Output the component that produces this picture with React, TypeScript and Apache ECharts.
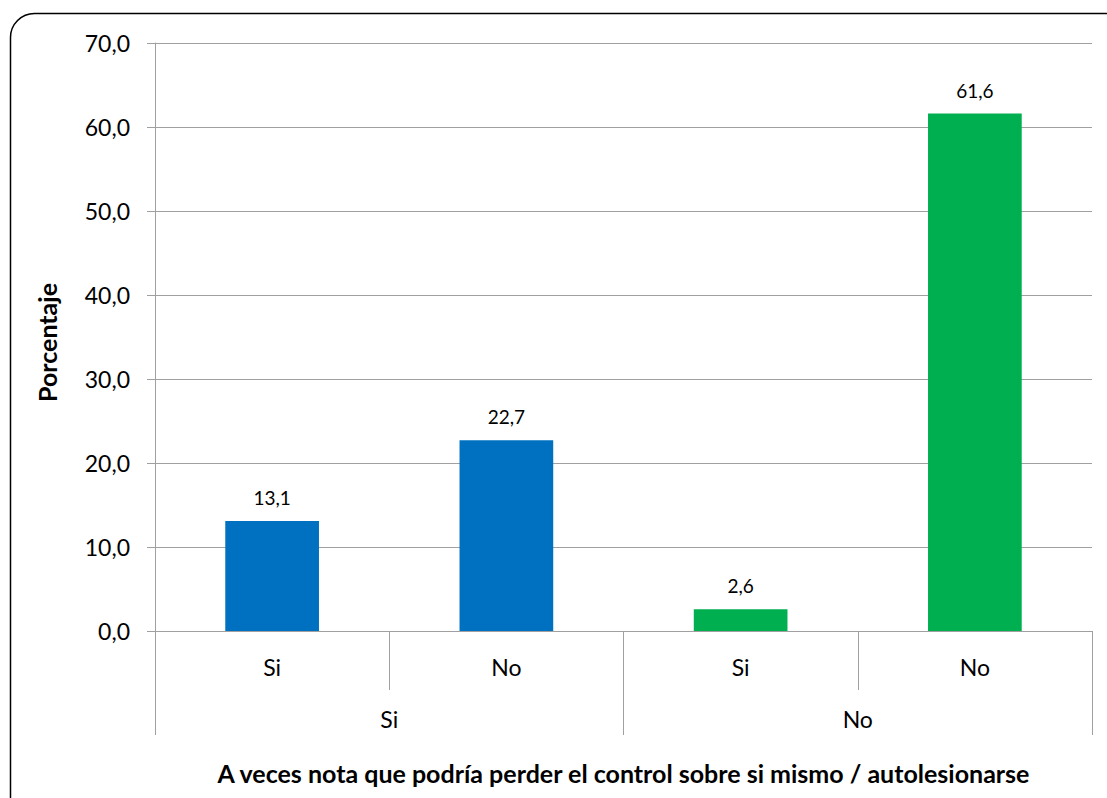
import React, { useEffect, useRef } from "react";
import * as echarts from "echarts";

// Answer groups: outer level is the first question, inner level the second
const innerCategories = ["Si", "No", "Si", "No"];
const outerCategories = ["Si", "No"];
const percentages = [13.1, 22.7, 2.6, 61.6];
const barColors = ["#0070C0", "#0070C0", "#00B050", "#00B050"];
const yTicks = { min: 0, max: 70, interval: 10 };

const yAxisTitle = "Porcentaje";
const xAxisTitle = "A veces nota que podría perder el control sobre si mismo / autolesionarse";

const FONT = "Lato, 'Open Sans', sans-serif";
const GRID_COLOR = "#A0A0A0";

const fmt = (v: number) => v.toFixed(1).replace(".", ",");

export default function App() {
  const ref = useRef<HTMLDivElement>(null);

  useEffect(() => {
    if (!ref.current) return;
    const chart = echarts.init(ref.current, null, { renderer: "svg" });
    const gridBox = { left: 155, right: 15, top: 43, bottom: 167 };

    chart.setOption({
      animation: false,
      backgroundColor: "#ffffff",
      textStyle: { fontFamily: FONT },
      graphic: [
        {
          type: "rect",
          shape: { x: 10.5, y: 13.5, width: 1120, height: 810, r: 24 },
          style: { fill: "none", stroke: "#000000", lineWidth: 1.5 },
          silent: true,
        },
      ],
      grid: [
        { ...gridBox, containLabel: false },
        { ...gridBox, containLabel: false },
      ],
      xAxis: [
        {
          type: "category",
          gridIndex: 0,
          data: innerCategories,
          position: "bottom",
          axisLine: { show: true, lineStyle: { color: GRID_COLOR, width: 1 } },
          axisTick: { show: true, length: 59, lineStyle: { color: GRID_COLOR } },
          axisLabel: { margin: 24, fontSize: 23, color: "#000000", fontFamily: FONT },
        },
        {
          type: "category",
          gridIndex: 1,
          data: outerCategories,
          position: "bottom",
          axisLine: { show: false },
          axisTick: { show: true, length: 104, lineStyle: { color: GRID_COLOR } },
          axisLabel: { margin: 76, fontSize: 23, color: "#000000", fontFamily: FONT },
          name: xAxisTitle,
          nameLocation: "middle",
          nameGap: 129,
          nameTextStyle: { fontSize: 25, fontWeight: "bold", color: "#000000", fontFamily: FONT },
        },
      ],
      yAxis: [
        {
          type: "value",
          gridIndex: 0,
          min: yTicks.min,
          max: yTicks.max,
          interval: yTicks.interval,
          axisLine: { show: true, lineStyle: { color: GRID_COLOR, width: 1 } },
          axisTick: { show: true, length: 8, lineStyle: { color: GRID_COLOR } },
          splitLine: { show: true, lineStyle: { color: GRID_COLOR, width: 1 } },
          axisLabel: {
            margin: 25,
            fontSize: 23,
            color: "#000000",
            fontFamily: FONT,
            formatter: (v: number) => fmt(v),
          },
          name: yAxisTitle,
          nameLocation: "middle",
          nameGap: 96,
          nameRotate: 90,
          nameTextStyle: {
            fontSize: 25,
            fontWeight: "bold",
            color: "#000000",
            fontFamily: FONT,
            padding: [0, 11, 0, 0],
          },
        },
        {
          type: "value",
          gridIndex: 1,
          min: yTicks.min,
          max: yTicks.max,
          show: false,
        },
      ],
      series: [
        {
          type: "bar",
          xAxisIndex: 0,
          yAxisIndex: 0,
          barWidth: "40%",
          data: percentages.map((v, i) => ({ value: v, itemStyle: { color: barColors[i] } })),
          label: {
            show: true,
            position: "top",
            distance: 14,
            fontSize: 19,
            color: "#000000",
            fontFamily: FONT,
            formatter: (p: any) => fmt(p.value),
          },
        },
      ],
    });

    return () => chart.dispose();
  }, []);

  return <div ref={ref} style={{ width: 1107, height: 798, position: "absolute", left: 0, top: 0 }} />;
}
